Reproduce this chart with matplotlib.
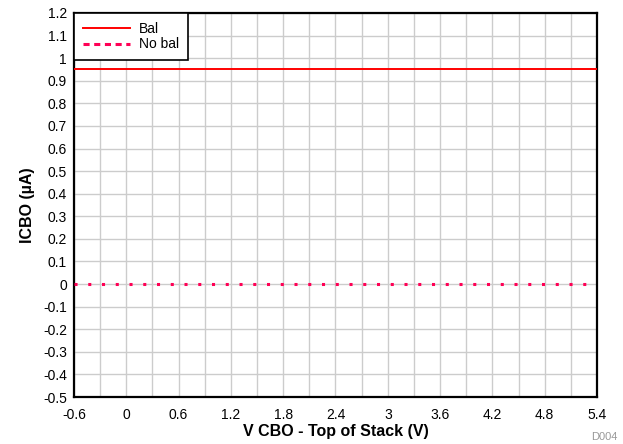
import numpy as np
import matplotlib.pyplot as plt
from matplotlib.lines import Line2D

plt.rcParams['font.family'] = ['Liberation Sans', 'DejaVu Sans']

# data
v_cbo = [-0.6, 5.4]
icbo_bal = [0.95, 0.95]
icbo_nobal = [0.0, 0.0]

x_ticks = np.round(np.arange(-0.6, 5.41, 0.6), 1)
y_ticks = np.round(np.arange(-0.5, 1.21, 0.1), 1)


def fmt(t):
    t = round(float(t), 1) + 0.0
    return f'{t:g}'


fig = plt.figure(figsize=(6.23, 4.44), dpi=100)
ax = fig.add_axes([74 / 623, 1 - 397 / 444, 523 / 623, 384 / 444])

ax.plot(v_cbo, icbo_bal, color='#ff0000', lw=1.4, zorder=3)
ax.plot(v_cbo, icbo_nobal, color='#ff0055', lw=2.2,
        linestyle=(0, (1, 3.5)), zorder=3)

ax.set_xlim(-0.6, 5.4)
ax.set_ylim(-0.5, 1.2)
ax.set_xticks(x_ticks)
ax.set_xticklabels([fmt(t) for t in x_ticks])
ax.set_yticks(y_ticks)
ax.set_yticklabels([fmt(t) for t in y_ticks])
ax.set_xticks(np.arange(-0.3, 5.4, 0.6), minor=True)
ax.tick_params(which='both', length=0, labelsize=10)
ax.tick_params(axis='x', pad=8)
ax.tick_params(axis='y', pad=5)
ax.grid(True, which='both', color='#cccccc', lw=1)
ax.set_axisbelow(True)
for s in ax.spines.values():
    s.set_linewidth(1.6)

ax.set_xlabel('V CBO - Top of Stack (V)', fontsize=11.5, fontweight='bold', labelpad=1)
ax.set_ylabel('ICBO (µA)', fontsize=11.5, fontweight='bold', labelpad=6)

handles = [Line2D([], [], color='#ff0000', lw=1.4),
           Line2D([], [], color='#ff0055', lw=2.2, linestyle=(0, (2, 1.5)))]
leg = ax.legend(handles, ['Bal', 'No bal'], loc='upper left', fontsize=10,
                fancybox=False, framealpha=1, edgecolor='black',
                borderaxespad=0, handlelength=3.4, handletextpad=0.6,
                labelspacing=0.1, borderpad=0.65)
leg.get_frame().set_linewidth(1.2)

fig.text(618 / 623, 1 - 437 / 444, 'D004', fontsize=8, color='#999999',
         ha='right', va='center')

fig.savefig('out.png', dpi=100)
